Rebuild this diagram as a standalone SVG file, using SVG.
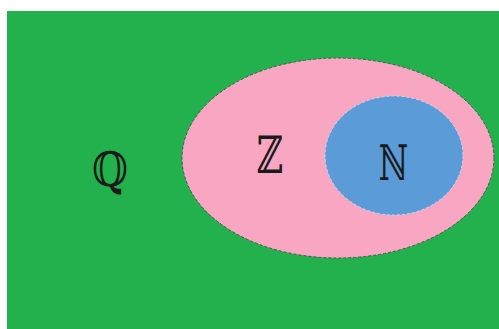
<svg xmlns="http://www.w3.org/2000/svg" width="499" height="329" viewBox="0 0 499 329">
<style>
.lbl{font-family:"DejaVu Serif","DejaVu Sans",serif;text-anchor:middle;fill:#1a1a1a;font-size:46px;}
</style>
<rect width="499" height="329" fill="#ffffff"/>
<g id="Q">
<rect x="7" y="11" width="492" height="318" fill="#22b14c"/>
<text class="lbl" transform="translate(110,186) scale(0.9,1.03)">ℚ</text>
</g>
<g id="Z">
<ellipse cx="338" cy="158" rx="156" ry="100" fill="#f9a6c2" stroke="#555" stroke-width="1" stroke-dasharray="3 2"/>
<text class="lbl" transform="translate(270,173) scale(0.8,1.12)">ℤ</text>
</g>
<g id="N">
<ellipse cx="394" cy="155.5" rx="69" ry="59.5" fill="#5b9bd8" stroke="#c9d6e8" stroke-width="1" stroke-dasharray="3 2"/>
<text class="lbl" transform="translate(393.5,180) scale(0.7,1.06)" fill="#1f3550">ℕ</text>
</g>
<g id="connectors"/>
</svg>
